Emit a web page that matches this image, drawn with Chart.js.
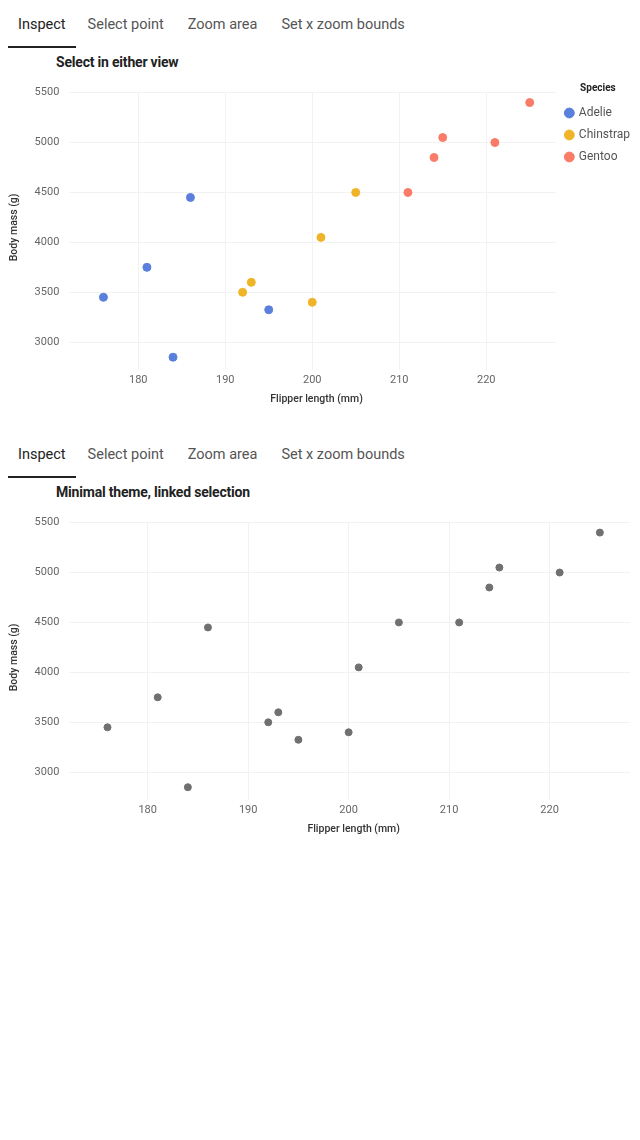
<!DOCTYPE html>
<html><head><meta charset="utf-8">
<script src="https://cdn.jsdelivr.net/npm/chart.js@4"></script>
<style>
body{margin:0;background:#fff;font-family:Roboto,sans-serif;width:640px}
.tabs{height:48px;display:flex}
.tabs div{padding:16px 12px 0 12px;font-size:14.5px;color:#555;box-sizing:border-box;height:48px}
.tabs div.on{color:#222;border-bottom:2px solid #222;padding-left:10px;padding-right:10px}
.ttl{height:28px;padding:6px 0 0 56px;box-sizing:border-box;font-size:14px;font-weight:bold;color:#222;letter-spacing:-0.2px}
canvas{display:block}
</style></head><body>
<div class="tabs"><div class="on" style="margin-left:8px">Inspect</div><div>Select point</div><div>Zoom area</div><div>Set x zoom bounds</div></div>
<div class="ttl">Select in either view</div>
<canvas id="c1" width="640" height="334"></canvas>
<div style="height:20px"></div>
<div class="tabs"><div class="on" style="margin-left:8px">Inspect</div><div>Select point</div><div>Zoom area</div><div>Set x zoom bounds</div></div>
<div class="ttl">Minimal theme, linked selection</div>
<canvas id="c2" width="640" height="334"></canvas>
<script>
var adelieX = [176, 181, 184, 186, 195];
var adelieY = [3450, 3750, 2850, 4450, 3325];
var chinX = [192, 193, 200, 201, 205];
var chinY = [3500, 3600, 3400, 4050, 4500];
var gentooX = [211, 214, 215, 221, 225];
var gentooY = [4500, 4850, 5050, 5000, 5400];
var xTicks = [180, 190, 200, 210, 220];
var yTicks = [3000, 3500, 4000, 4500, 5000, 5500];

function pts(xs, ys) {
  return xs.map(function(x, i) { return {x: x, y: ys[i]}; });
}
var font = {family: 'Roboto', size: 11};
function scales() {
  return {
    x: {type: 'linear', min: 173, max: 228, afterBuildTicks: function(a){ a.ticks = xTicks.map(function(v){return {value:v};}); },
      grid: {color: '#f2f2f2'}, border: {display: false},
      ticks: {color: '#666', font: font, callback: function(v){ return String(v); }},
      title: {display: true, text: 'Flipper length (mm)', color: '#333', font: {family: 'Roboto', size: 10.5, weight: '500'}}},
    y: {min: 2800, max: 5500, afterBuildTicks: function(a){ a.ticks = yTicks.map(function(v){return {value:v};}); },
      grid: {color: '#f2f2f2'}, border: {display: false},
      ticks: {color: '#666', font: font, padding: 10, callback: function(v){ return String(v); }},
      title: {display: true, text: 'Body mass (g)', color: '#333', font: {family: 'Roboto', size: 10.5, weight: '500'}}}
  };
}

new Chart(document.getElementById('c1'), {
  type: 'scatter',
  data: {datasets: [
    {label: 'Adelie', data: pts(adelieX, adelieY), backgroundColor: '#5b7fdc', borderColor: '#5b7fdc', pointRadius: 4},
    {label: 'Chinstrap', data: pts(chinX, chinY), backgroundColor: '#f0b429', borderColor: '#f0b429', pointRadius: 4},
    {label: 'Gentoo', data: pts(gentooX, gentooY), backgroundColor: '#f87c67', borderColor: '#f87c67', pointRadius: 4}
  ]},
  options: {responsive: false, animation: false,
    layout: {padding: {left: 4, right: 0, top: 7}},
    plugins: {
      tooltip: {enabled: false},
      legend: {position: 'right', align: 'start',
        title: {display: true, text: 'Species', color: '#222', padding: {top: 0, bottom: 2}, font: {family: 'Roboto', size: 10, weight: 'bold'}},
        labels: {usePointStyle: true, pointStyle: 'circle', boxWidth: 7, boxHeight: 7, padding: 10, color: '#555', font: {family: 'Roboto', size: 12}}}
    },
    scales: scales()}
});

new Chart(document.getElementById('c2'), {
  type: 'scatter',
  data: {datasets: [
    {label: 'All', data: pts(adelieX.concat(chinX, gentooX), adelieY.concat(chinY, gentooY)), backgroundColor: '#707070', borderColor: '#707070', pointRadius: 3.5}
  ]},
  options: {responsive: false, animation: false,
    layout: {padding: {left: 4, right: 10, top: 7}},
    plugins: {legend: {display: false}, tooltip: {enabled: false}},
    scales: scales()}
});
</script>
</body></html>
